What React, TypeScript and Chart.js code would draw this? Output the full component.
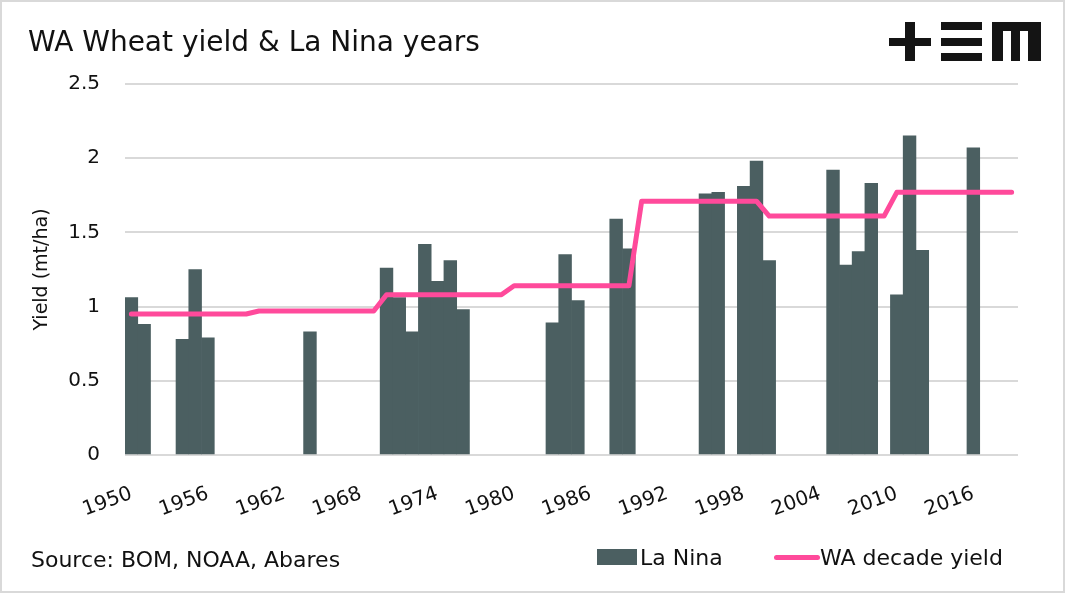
import React, { useEffect, useRef } from "react";
import { Chart, registerables } from "chart.js";

Chart.register(...registerables);

const years = [
  "1950", "1951", "1952", "1953", "1954", "1955", "1956", "1957", "1958", "1959",
  "1960", "1961", "1962", "1963", "1964", "1965", "1966", "1967", "1968", "1969",
  "1970", "1971", "1972", "1973", "1974", "1975", "1976", "1977", "1978", "1979",
  "1980", "1981", "1982", "1983", "1984", "1985", "1986", "1987", "1988", "1989",
  "1990", "1991", "1992", "1993", "1994", "1995", "1996", "1997", "1998", "1999",
  "2000", "2001", "2002", "2003", "2004", "2005", "2006", "2007", "2008", "2009",
  "2010", "2011", "2012", "2013", "2014", "2015", "2016", "2017", "2018", "2019",
];

const laNinaYield: (number | null)[] = [
  1.06, 0.88, null, null, 0.78, 1.25, 0.79, null, null, null,
  null, null, null, null, 0.83, null, null, null, null, null,
  1.26, 1.06, 0.83, 1.42, 1.17, 1.31, 0.98, null, null, null,
  null, null, null, 0.89, 1.35, 1.04, null, null, 1.59, 1.39,
  null, null, null, null, null, 1.76, 1.77, null, 1.81, 1.98,
  1.31, null, null, null, null, 1.92, 1.28, 1.37, 1.83, null,
  1.08, 2.15, 1.38, null, null, null, 2.07, null, null, null,
];

const decadeYield = [
  0.95, 0.95, 0.95, 0.95, 0.95, 0.95, 0.95, 0.95, 0.95, 0.95,
  0.97, 0.97, 0.97, 0.97, 0.97, 0.97, 0.97, 0.97, 0.97, 0.97,
  1.08, 1.08, 1.08, 1.08, 1.08, 1.08, 1.08, 1.08, 1.08, 1.08,
  1.14, 1.14, 1.14, 1.14, 1.14, 1.14, 1.14, 1.14, 1.14, 1.14,
  1.71, 1.71, 1.71, 1.71, 1.71, 1.71, 1.71, 1.71, 1.71, 1.71,
  1.61, 1.61, 1.61, 1.61, 1.61, 1.61, 1.61, 1.61, 1.61, 1.61,
  1.77, 1.77, 1.77, 1.77, 1.77, 1.77, 1.77, 1.77, 1.77, 1.77,
];

const TITLE = "WA Wheat yield & La Nina years";
const SOURCE = "Source: BOM, NOAA, Abares";
const BAR_LABEL = "La Nina";
const LINE_LABEL = "WA decade yield";
const Y_TITLE = "Yield (mt/ha)";

const FONT = "'DejaVu Sans', sans-serif";
const BAR_COLOR = "#4B5F61";
const LINE_COLOR = "#FF4A9B";
const GRID_COLOR = "#D9D9D9";
const TEXT_COLOR = "#111111";
const LOGO_COLOR = "#141414";

export default function App() {
  const canvasRef = useRef<HTMLCanvasElement | null>(null);

  useEffect(() => {
    if (!canvasRef.current) return;
    const chart = new Chart(canvasRef.current, {
      type: "bar",
      data: {
        labels: years,
        datasets: [
          {
            type: "line",
            label: LINE_LABEL,
            data: decadeYield,
            borderColor: LINE_COLOR,
            backgroundColor: LINE_COLOR,
            borderWidth: 5,
            pointRadius: 0,
            tension: 0,
            borderCapStyle: "round",
            borderJoinStyle: "round",
            order: 0,
          } as any,
          {
            type: "bar",
            label: BAR_LABEL,
            data: laNinaYield,
            backgroundColor: BAR_COLOR,
            borderWidth: 0,
            barPercentage: 1,
            categoryPercentage: 1,
            order: 1,
          } as any,
        ],
      },
      options: {
        animation: false,
        responsive: false,
        maintainAspectRatio: false,
        layout: { padding: { left: 0, right: 47, top: 84, bottom: 58 } },
        plugins: {
          legend: { display: false },
          tooltip: { enabled: false },
          title: { display: false },
        },
        scales: {
          x: {
            type: "category",
            grid: { display: false },
            border: { display: false },
            ticks: {
              autoSkip: false,
              minRotation: 20,
              maxRotation: 20,
              padding: 19,
              color: TEXT_COLOR,
              font: { family: FONT, size: 20 },
              callback: (_v: any, index: number) =>
                index % 6 === 0 ? years[index] : "",
            },
            afterFit: (s: any) => {
              s.height = 80;
            },
          },
          y: {
            min: 0,
            max: 2.5,
            ticks: {
              stepSize: 0.5,
              padding: 25,
              color: TEXT_COLOR,
              font: { family: FONT, size: 20 },
              callback: (v: any) => String(Number(v)),
            },
            grid: { color: GRID_COLOR, lineWidth: 2, drawTicks: false },
            border: { display: false },
            title: {
              display: true,
              text: Y_TITLE,
              color: TEXT_COLOR,
              font: { family: FONT, size: 19 },
              padding: { top: 31, bottom: 0 },
            },
            afterFit: (s: any) => {
              s.width = 125;
            },
          },
        },
      },
    });
    return () => chart.destroy();
  }, []);

  const abs = (l: number, t: number, w: number, h: number, c: string): React.CSSProperties => ({
    position: "absolute",
    left: l,
    top: t,
    width: w,
    height: h,
    background: c,
  });

  const textStyle = (l: number, t: number, size: number): React.CSSProperties => ({
    position: "absolute",
    left: l,
    top: t,
    fontFamily: FONT,
    fontSize: size,
    lineHeight: 1,
    color: TEXT_COLOR,
    whiteSpace: "nowrap",
  });

  return (
    <div
      style={{
        position: "fixed",
        left: 0,
        top: 0,
        width: 1065,
        height: 593,
        background: "#ffffff",
        overflow: "hidden",
      }}
    >
      <canvas
        ref={canvasRef}
        width={1065}
        height={593}
        style={{ position: "absolute", left: 0, top: 0, width: 1065, height: 593 }}
      />
      <div style={textStyle(28, 28, 28)}>{TITLE}</div>

      {/* logo */}
      <div style={abs(889, 38, 42, 8, LOGO_COLOR)} />
      <div style={abs(905, 22, 10, 39, LOGO_COLOR)} />
      <div style={abs(941, 22, 41, 8, LOGO_COLOR)} />
      <div style={abs(941, 37.5, 41, 8, LOGO_COLOR)} />
      <div style={abs(941, 53, 41, 8, LOGO_COLOR)} />
      <div style={abs(992, 22, 49, 9, LOGO_COLOR)} />
      <div style={abs(992, 22, 11, 39, LOGO_COLOR)} />
      <div style={abs(1011, 22, 9, 39, LOGO_COLOR)} />
      <div style={abs(1028, 22, 13, 39, LOGO_COLOR)} />

      {/* source */}
      <div style={textStyle(31, 549, 22)}>{SOURCE}</div>

      {/* legend */}
      <div style={abs(597, 549, 40, 16, BAR_COLOR)} />
      <div style={textStyle(640, 546.5, 22)}>{BAR_LABEL}</div>
      <div style={{ ...abs(774, 554.5, 46, 5, LINE_COLOR), borderRadius: 2.5 }} />
      <div style={textStyle(820, 546.5, 22)}>{LINE_LABEL}</div>

      <div
        style={{
          position: "absolute",
          left: 0,
          top: 0,
          width: 1065,
          height: 593,
          border: "2px solid #D9D9D9",
          boxSizing: "border-box",
          pointerEvents: "none",
        }}
      />
    </div>
  );
}
